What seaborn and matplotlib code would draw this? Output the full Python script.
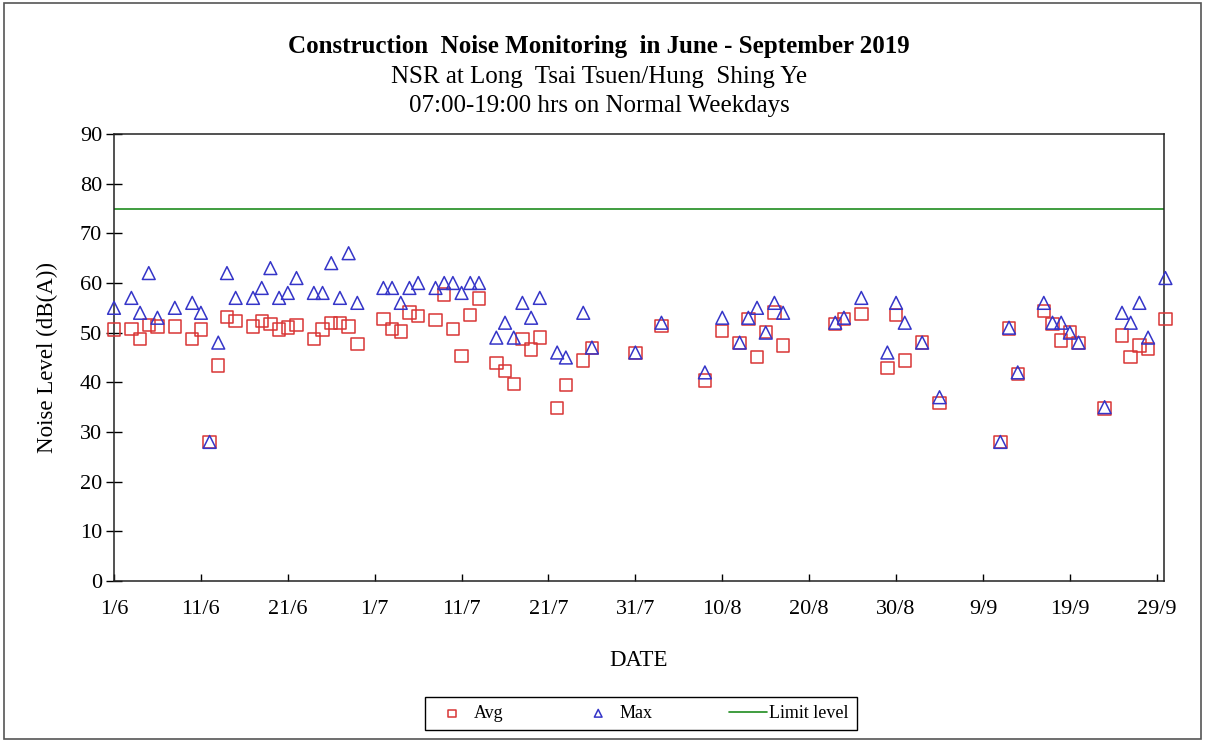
import matplotlib
matplotlib.use("Agg")
import matplotlib.pyplot as plt
from matplotlib.patches import Rectangle
import seaborn as sns
import pandas as pd

# monitoring days (day/month, 2019)
dates = ["1/6", "3/6", "4/6", "5/6", "6/6", "8/6", "10/6", "11/6", "12/6", "13/6",
         "14/6", "15/6", "17/6", "18/6", "19/6", "20/6", "21/6", "22/6", "24/6", "25/6",
         "26/6", "27/6", "28/6", "29/6",
         "2/7", "3/7", "4/7", "5/7", "6/7", "8/7", "9/7", "10/7", "11/7", "12/7",
         "13/7", "15/7", "16/7", "17/7", "18/7", "19/7", "20/7", "22/7", "23/7", "25/7",
         "26/7", "31/7",
         "3/8", "8/8", "10/8", "12/8", "13/8", "14/8", "15/8", "16/8", "17/8", "23/8",
         "24/8", "26/8", "29/8", "30/8", "31/8",
         "2/9", "4/9", "11/9", "12/9", "13/9", "16/9", "17/9", "18/9", "19/9", "20/9",
         "23/9", "25/9", "26/9", "27/9", "28/9", "30/9"]

avg_level = [50.6, 50.7, 48.7, 51.5, 51.2, 51.2, 48.7, 50.6, 28.0, 43.4,
             53.2, 52.3, 51.2, 52.4, 51.8, 50.6, 51.0, 51.5, 48.7, 50.6,
             52.0, 52.0, 51.2, 47.7,
             52.8, 50.7, 50.2, 54.1, 53.3, 52.6, 57.7, 50.7, 45.3, 53.6,
             56.9, 43.9, 42.3, 39.7, 48.7, 46.6, 49.0, 34.8, 39.5, 44.4,
             46.9, 45.9,
             51.3, 40.4, 50.3, 47.9, 52.8, 45.1, 50.1, 54.1, 47.4, 51.8,
             52.8, 53.8, 42.9, 53.6, 44.4,
             48.0, 35.8, 28.0, 50.8, 41.7, 54.4, 51.8, 48.4, 50.1, 47.9,
             34.7, 49.4, 45.1, 47.4, 46.7, 52.8]

max_level = [55, 57, 54, 62, 53, 55, 56, 54, 28, 48,
             62, 57, 57, 59, 63, 57, 58, 61, 58, 58,
             64, 57, 66, 56,
             59, 59, 56, 59, 60, 59, 60, 60, 58, 60,
             60, 49, 52, 49, 56, 53, 57, 46, 45, 54,
             47, 46,
             52, 42, 53, 48, 53, 55, 50, 56, 54, 52,
             53, 57, 46, 56, 52,
             48, 37, 28, 51, 42, 56, 52, 52, 50, 48,
             35, 54, 52, 56, 49, 61]

limit_level = 75
limit_dates = ["1/6", "30/9"]

tick_labels = ["1/6", "11/6", "21/6", "1/7", "11/7", "21/7", "31/7",
               "10/8", "20/8", "30/8", "9/9", "19/9", "29/9"]


def to_date(s):
    return pd.to_datetime(s + "/2019", format="%d/%m/%Y")


df = pd.DataFrame({"date": [to_date(d) for d in dates],
                   "Avg": avg_level, "Max": max_level})
lim = pd.DataFrame({"date": [to_date(d) for d in limit_dates],
                    "level": [limit_level] * len(limit_dates)})

sns.set_style("ticks")
plt.rcParams["font.family"] = ["Liberation Serif", "DejaVu Serif"]
plt.rcParams["text.color"] = "black"
plt.rcParams["axes.labelcolor"] = "black"
plt.rcParams["xtick.color"] = "black"
plt.rcParams["ytick.color"] = "black"

red = "#d93535"
blue = "#3535c8"
green = "#1f8c1f"

fig = plt.figure(figsize=(12.05, 7.42), dpi=100)
ax = fig.add_axes([114 / 1205, 1 - 581 / 742, 1050 / 1205, 447 / 742])

sns.scatterplot(data=df, x="date", y="Avg", marker="s", s=80, facecolors="none",
                edgecolor=red, linewidth=1.1, label="Avg", ax=ax, clip_on=False, zorder=3)
sns.scatterplot(data=df, x="date", y="Max", marker="^", s=85, facecolors="none",
                edgecolor=blue, linewidth=1.1, label="Max", ax=ax, clip_on=False, zorder=4)
sns.lineplot(data=lim, x="date", y="level", color=green, linewidth=1.2,
             label="Limit level", ax=ax)

ax.set_xlim(to_date("1/6"), to_date("30/9") + pd.Timedelta(hours=-4))
ax.set_ylim(0, 90)
ax.set_yticks(range(0, 91, 10))
ax.set_xticks([to_date(t) for t in tick_labels])
ax.set_xticklabels(tick_labels)

for side in ["top", "right", "left", "bottom"]:
    ax.spines[side].set_visible(True)
    ax.spines[side].set_linewidth(1.1)
    ax.spines[side].set_color("#222222")

ax.tick_params(axis="x", direction="in", length=5, width=1.0, labelsize=16, pad=14)
ax.tick_params(axis="y", direction="inout", length=11, width=1.0, labelsize=16, pad=3)

ax.set_xlabel("DATE", fontsize=16.5, labelpad=22)
ax.set_ylabel("Noise Level (dB(A))", fontsize=16.5, labelpad=16)

fig.text(0.497, 1 - 47 / 742, "Construction  Noise Monitoring  in June - September 2019",
         ha="center", va="center", fontsize=18, fontweight="bold")
fig.text(0.497, 1 - 77 / 742, "NSR at Long  Tsai Tsuen/Hung  Shing Ye",
         ha="center", va="center", fontsize=18)
fig.text(0.497, 1 - 106 / 742, "07:00-19:00 hrs on Normal Weekdays",
         ha="center", va="center", fontsize=18)

leg = ax.legend(loc="center", bbox_to_anchor=(416 / 1205, 12 / 742, 450 / 1205, 33 / 742),
                bbox_transform=fig.transFigure, mode="expand", ncol=3, fontsize=13,
                markerscale=0.6, handlelength=2.1, handletextpad=0.15, borderpad=0.45,
                fancybox=False, framealpha=1)
leg.get_frame().set_edgecolor("black")
leg.get_frame().set_linewidth(1.0)

fig.patches.append(Rectangle((0.003, 0.004), 0.994, 0.992, transform=fig.transFigure,
                             fill=False, edgecolor="#555555", linewidth=1.2))

fig.savefig("out.png", dpi=100)
